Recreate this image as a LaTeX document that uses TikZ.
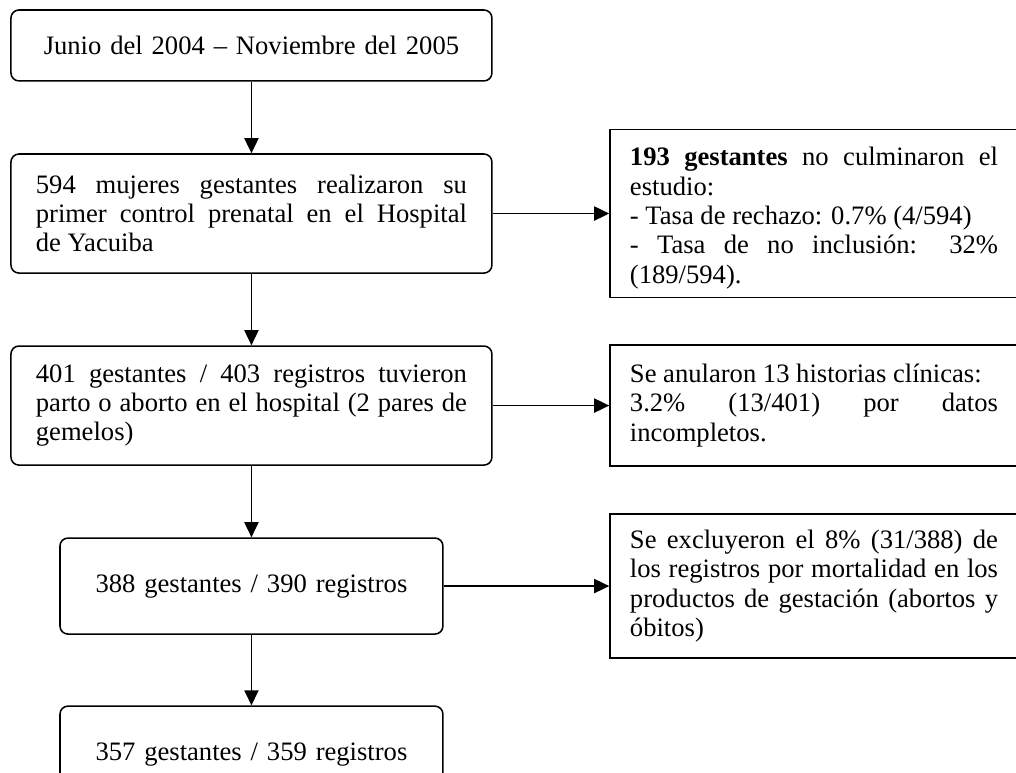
\documentclass[tikz,border=0pt]{standalone}
\usepackage{fontspec}
\setmainfont{Liberation Serif}
\usetikzlibrary{positioning,arrows.meta}

\begin{document}
\begin{tikzpicture}[
  stage/.style={rectangle, rounded corners=3.6pt, draw, line width=0.7pt, minimum width=216.9pt, minimum height=53.7pt, inner xsep=11.25pt, text width=194.4pt, align=justify},
  small/.style={minimum width=172.7pt, minimum height=43.3pt, text width=150.2pt, align=center},
  side/.style={rectangle, draw, line width=0.7pt, minimum width=184pt, inner xsep=9pt, text width=166pt, align=justify},
  flow/.style={-{Triangle[length=6.8pt,width=6.4pt]}, line width=0.7pt},
  node distance=75.8pt,
  font={\fontsize{12pt}{13.2pt}\selectfont\normalbaselineskip=13.2pt\relax}
]
\useasboundingbox (-113.4pt,20.5pt) rectangle (344.8pt,-328.1pt);

% Main flow
\node[stage, align=center, minimum height=32pt] (period) {Junio del 2004 – Noviembre del 2005};
\node[stage, below of=period] (first) {594 mujeres gestantes realizaron su\linebreak primer control prenatal en el Hospital\linebreak de Yacuiba};
\node[stage, below of=first, node distance=86.6pt] (births) {401 gestantes / 403 registros tuvieron\linebreak parto o aborto en el hospital (2 pares de\linebreak gemelos)};
\node[stage, small, below of=births, node distance=81.4pt] (valid) {388 gestantes / 390 registros};
\node[stage, small, below of=valid] (final) {357 gestantes / 359 registros};

% Losses
\node[side, right of=first, node distance=253.7pt, minimum height=75.8pt] (dropout) {};
\begin{scope}
\clip ([yshift=4pt]dropout.south west) rectangle (dropout.north east);
\node[side, draw=none, anchor=north, yshift=-4.8pt] (dropouttext) at (dropout.north) {\textbf{193 gestantes} no culminaron el\linebreak estudio:\\- Tasa de rechazo: 0.7\% (4/594)\\- Tasa de no inclusión: 32\%\linebreak (189/594).};
\end{scope}
\node[side, right of=births, node distance=253.7pt, minimum height=54.6pt] (voided) {Se anularon 13 historias clínicas:\\3.2\% (13/401) por datos\linebreak incompletos.};
\node[side, right of=valid, node distance=253.7pt, minimum height=64.9pt] (excluded) {Se excluyeron el 8\% (31/388) de\linebreak los registros por mortalidad en los\linebreak productos de gestación (abortos y\linebreak óbitos)};

% Connections
\draw[flow] (period) -- (first);
\draw[flow] (first) -- (births);
\draw[flow] (births) -- (valid);
\draw[flow] (valid) -- (final);
\draw[flow] (first) -- (dropout);
\draw[flow] (births) -- (voided);
\draw[flow] (valid) -- (excluded);
\end{tikzpicture}
\end{document}
